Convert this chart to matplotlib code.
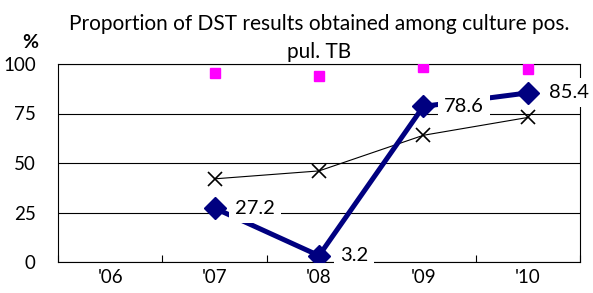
import matplotlib.pyplot as plt
import numpy as np

plt.rcParams['font.family'] = ['Lato', 'DejaVu Sans']

years = ["'06", "'07", "'08", "'09", "'10"]
dst_pct = [None, 27.2, 3.2, 78.6, 85.4]
cross_pct = [None, 42, 46, 64, 73]
pink_pct = [None, 95.5, 94, 98.5, 97.5]

x = np.arange(len(years))

def pick(vals):
    xs = [i for i, v in enumerate(vals) if v is not None]
    ys = [v for v in vals if v is not None]
    return xs, ys

fig = plt.figure(figsize=(5.93, 2.93), dpi=100)
ax = fig.add_axes([58 / 593, 31 / 293, 522 / 593, 198 / 293])

px, py = pick(pink_pct)
ax.plot(px, py, linestyle='none', marker='s', color='#FF00FF', markersize=7.5, zorder=3)

cx, cy = pick(cross_pct)
ax.plot(cx, cy, color='black', linewidth=0.8, marker='x', markersize=10,
        markeredgewidth=1.2, zorder=4)

dx, dy = pick(dst_pct)
ax.plot(dx, dy, color='#000080', linewidth=3.6, marker='D', markersize=11, zorder=5)

for xi, yi in zip(dx, dy):
    ax.annotate(f'{yi}', (xi, yi), xytext=(15, 0), textcoords='offset points',
                ha='left', va='center', fontsize=14.5, zorder=6,
                bbox=dict(boxstyle='square,pad=0.3', facecolor='white', edgecolor='none'))

ax.set_xlim(-0.5, 4.5)
ax.set_ylim(0, 100)
ax.set_yticks([0, 25, 50, 75, 100])
ax.set_xticks(x)
ax.set_xticklabels(years)
ax.set_xticks(np.arange(-0.5, 5, 1), minor=True)
ax.tick_params(axis='x', which='major', length=0, labelsize=13.5, pad=5)
ax.tick_params(axis='x', which='minor', length=5, direction='in', width=0.8)
ax.tick_params(axis='y', length=0, labelsize=13.5, pad=16)
ax.grid(axis='y', color='black', linewidth=0.8)
for s in ax.spines.values():
    s.set_linewidth(0.8)

ax.set_title('Proportion of DST results obtained among culture pos.\npul. TB',
             fontsize=15, pad=4, linespacing=1.5)
fig.text(30 / 593, 1 - 43 / 293, '%', fontsize=14, fontweight='bold', ha='center', va='center')

fig.savefig('out.png', dpi=100)
